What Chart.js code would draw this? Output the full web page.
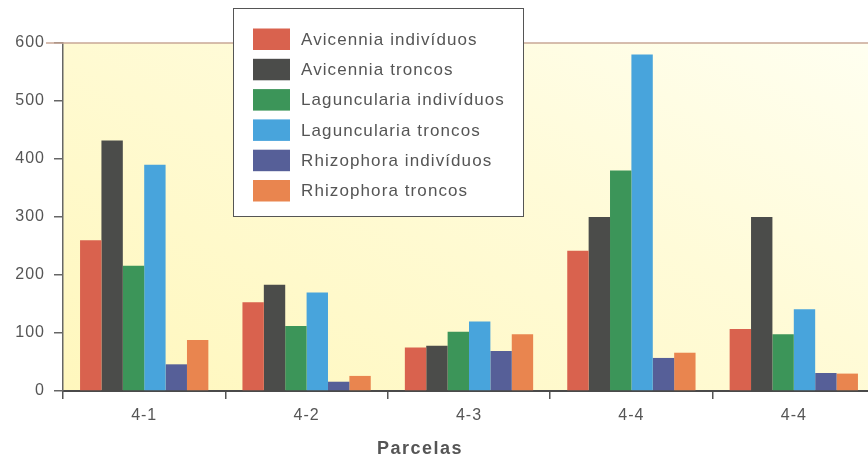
<!DOCTYPE html>
<html>
<head>
<meta charset="utf-8">
<script src="https://cdn.jsdelivr.net/npm/chart.js@4"></script>
<style>
  html, body { margin: 0; padding: 0; background: #fff; overflow: hidden; width: 868px; height: 461px; }
  #wrap { position: relative; width: 880px; height: 461px; }
</style>
</head>
<body>
<div id="wrap"><canvas id="c" width="880" height="461"></canvas></div>
<script>
// Parcelas (plots) on the x axis
const parcelas = ['4-1', '4-2', '4-3', '4-4', '4-4'];

// Counts per plot
const avicenniaIndividuos     = [260, 153, 75, 242, 107];
const avicenniaTroncos        = [432, 183, 78, 300, 300];
const lagunculariaIndividuos  = [216, 112, 102, 380, 98];
const lagunculariaTroncos     = [390, 170, 120, 580, 141];
const rhizophoraIndividuos    = [46, 16, 69, 57, 31];
const rhizophoraTroncos       = [88, 26, 98, 66, 30];

// Y axis tick values
const yTicks = [0, 100, 200, 300, 400, 500, 600];

const FONT = '"Liberation Sans", Arial, Helvetica, sans-serif';
const TEXT = '#555555';

const series = [
  { label: 'Avicennia indivíduos',    data: avicenniaIndividuos,    color: '#d9624e' },
  { label: 'Avicennia troncos',       data: avicenniaTroncos,       color: '#4b4c4a' },
  { label: 'Laguncularia indivíduos', data: lagunculariaIndividuos, color: '#3c9559' },
  { label: 'Laguncularia troncos',    data: lagunculariaTroncos,    color: '#48a4dc' },
  { label: 'Rhizophora indivíduos',   data: rhizophoraIndividuos,   color: '#565f98' },
  { label: 'Rhizophora troncos',      data: rhizophoraTroncos,      color: '#e9854f' }
];

// Pale yellow plot background, slightly whiter towards the top right
const plotBackground = {
  id: 'plotBackground',
  beforeDraw(chart) {
    const { ctx, chartArea: a } = chart;
    ctx.save();
    const g = ctx.createLinearGradient(a.left, a.bottom, a.left + 300, a.top - 250);
    g.addColorStop(0, '#fff7bd');
    g.addColorStop(0.6, '#fffbd8');
    g.addColorStop(1, '#fffff0');
    ctx.fillStyle = g;
    ctx.fillRect(a.left, a.top, a.right - a.left, a.bottom - a.top);
    ctx.restore();
    ctx.letterSpacing = '1px';
  },
  afterDraw(chart) {
    chart.ctx.letterSpacing = '0px';
  }
};

// Top frame line at the axis maximum
const topLine = {
  id: 'topLine',
  afterDraw(chart) {
    const { ctx } = chart;
    const y = chart.scales.y.getPixelForValue(600);
    ctx.save();
    ctx.strokeStyle = '#c9a796';
    ctx.lineWidth = 1.5;
    ctx.beginPath();
    ctx.moveTo(46, y);
    ctx.lineTo(chart.width, y);
    ctx.stroke();
    ctx.restore();
  }
};

// Boxed legend and x axis title
const boxedLegend = {
  id: 'boxedLegend',
  afterDraw(chart) {
    const { ctx } = chart;
    ctx.save();
    ctx.fillStyle = '#ffffff';
    ctx.fillRect(233, 8, 291, 209);
    ctx.strokeStyle = '#555555';
    ctx.lineWidth = 1;
    ctx.strokeRect(233.5, 8.5, 290, 208);

    ctx.font = '17px ' + FONT;
    ctx.letterSpacing = '1.1px';
    ctx.textBaseline = 'middle';
    ctx.textAlign = 'left';
    chart.data.datasets.forEach((ds, i) => {
      const top = 28.5 + i * 30.3;
      ctx.fillStyle = ds.backgroundColor;
      ctx.fillRect(253, top, 37, 21.5);
      ctx.fillStyle = TEXT;
      ctx.fillText(ds.label, 301, top + 11.5);
    });

    ctx.font = 'bold 18px ' + FONT;
    ctx.letterSpacing = '1.5px';
    ctx.textAlign = 'center';
    ctx.fillStyle = TEXT;
    ctx.fillText('Parcelas', 420, 449);
    ctx.restore();
  }
};

new Chart(document.getElementById('c'), {
  type: 'bar',
  data: {
    labels: parcelas,
    datasets: series.map(s => ({
      label: s.label,
      data: s.data,
      backgroundColor: s.color,
      borderWidth: 0,
      categoryPercentage: 0.79,
      barPercentage: 1.0
    }))
  },
  options: {
    responsive: false,
    devicePixelRatio: 1,
    animation: false,
    layout: { padding: { top: 43, right: 5, bottom: 0, left: 0 } },
    plugins: {
      legend: { display: false },
      tooltip: { enabled: false }
    },
    scales: {
      x: {
        offset: true,
        grid: {
          offset: true,
          drawOnChartArea: false,
          drawTicks: true,
          tickLength: 8,
          color: '#555555',
          lineWidth: 1.5
        },
        border: { color: '#4a4a4a', width: 2 },
        ticks: {
          font: { family: FONT, size: 16 },
          color: TEXT,
          padding: 7,
          maxRotation: 0,
          autoSkip: false
        },
        afterFit(scale) { scale.height = 70; }
      },
      y: {
        min: 0,
        max: 600,
        afterBuildTicks(scale) { scale.ticks = yTicks.map(v => ({ value: v })); },
        grid: {
          drawOnChartArea: false,
          drawTicks: true,
          tickLength: 9,
          color: '#666666',
          lineWidth: 1.5
        },
        border: { color: '#666666', width: 1.5 },
        ticks: {
          font: { family: FONT, size: 16 },
          color: TEXT,
          padding: 9
        },
        afterFit(scale) { scale.width = 63; }
      }
    }
  },
  plugins: [plotBackground, topLine, boxedLegend]
});
</script>
</body>
</html>
